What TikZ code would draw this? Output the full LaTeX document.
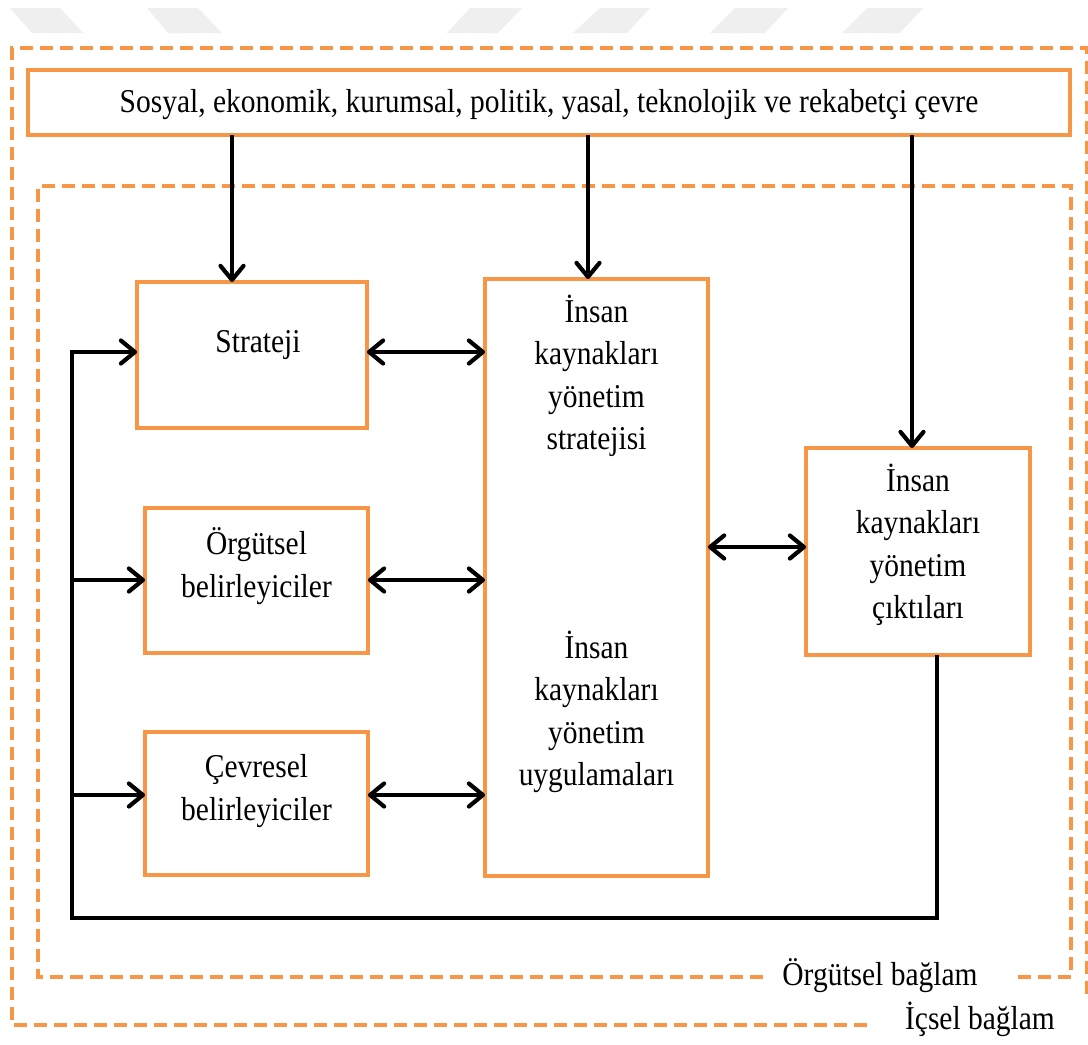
\documentclass[tikz,border=0pt]{standalone}
\usepackage{fontspec}
\setmainfont{Liberation Serif}[FakeStretch=0.885]
\usetikzlibrary{arrows.meta}
\definecolor{hrorange}{HTML}{F79646}
\definecolor{markgray}{HTML}{EFEFEF}
\begin{document}
\begin{tikzpicture}[x=1pt,y=-1pt,
  box/.style={draw=hrorange,line width=4.5pt,rectangle,inner sep=0pt,outer sep=0pt},
  frame/.style={draw=hrorange,line width=4.5pt,dash pattern=on 13pt off 7pt},
  lbl/.style={font=\fontsize{33.3}{42.5}\selectfont,align=center,anchor=base,inner sep=0pt},
  flow/.style={line width=4.2pt,-{Straight Barb[length=14pt,width=23pt,line cap=round,line join=round]}},
  both/.style={line width=4.2pt,{Straight Barb[length=14pt,width=23pt,line cap=round,line join=round]}-{Straight Barb[length=14pt,width=23pt,line cap=round,line join=round]}}]
\useasboundingbox (0,0) rectangle (1088,1045);
\fill[white] (0,0) rectangle (1088,1045);

% faint header marks
\fill[markgray] (10,8) -- (60,8) -- (83,33) -- (32,33) -- cycle;
\fill[markgray] (147,8) -- (198,8) -- (222,33) -- (168,33) -- cycle;
\fill[markgray] (470,8) -- (522,8) -- (498,33) -- (447,33) -- cycle;
\fill[markgray] (600,8) -- (650,8) -- (627,33) -- (573,33) -- cycle;
\fill[markgray] (735,8) -- (788,8) -- (765,33) -- (710,33) -- cycle;
\fill[markgray] (867,8) -- (923,8) -- (900,33) -- (842,33) -- cycle;

% context frames
\draw[frame] (867,1025) -- (12,1025) -- (12,48) -- (1087,48) -- (1087,1000);
\draw[frame] (763,977) -- (38,977) -- (38,186) -- (1071,186) -- (1071,977) -- (1013,977);
\node[lbl] (orgctx) at (880,985) {Örgütsel bağlam};
\node[lbl] (icctx) at (980,1029) {İçsel bağlam};

% boxes
\node[box,minimum width=1042pt,minimum height=65pt] (env) at (549,102.5) {};
\node[box,minimum width=230pt,minimum height=146pt] (strat) at (252,355) {};
\node[box,minimum width=223pt,minimum height=145pt] (org) at (256.5,580.5) {};
\node[box,minimum width=223pt,minimum height=143pt] (cev) at (256.5,803.5) {};
\node[box,minimum width=223pt,minimum height=597pt] (ik) at (596.5,577.5) {};
\node[box,minimum width=224pt,minimum height=207pt] (out) at (918,551.5) {};

% texts (y is the baseline of the last line)
\node[lbl] (envt) at (549,112) {Sosyal, ekonomik, kurumsal, politik, yasal, teknolojik ve rekabetçi çevre};
\node[lbl] (stratt) at (258,352) {Strateji};
\node[lbl] (orgt) at (256.5,597) {Örgütsel\\belirleyiciler};
\node[lbl] (cevt) at (256.5,820) {Çevresel\\belirleyiciler};
\node[lbl] (ikt1) at (596.5,449.5) {İnsan\\kaynakları\\yönetim\\stratejisi};
\node[lbl] (ikt2) at (596.5,785.5) {İnsan\\kaynakları\\yönetim\\uygulamaları};
\node[lbl] (outt) at (918,618.5) {İnsan\\kaynakları\\yönetim\\çıktıları};

% routing coordinates
\coordinate (xa) at (232,0);
\coordinate (xb) at (588,0);
\coordinate (xc) at (912,0);
\coordinate (xf) at (937,0);
\coordinate (xl) at (72,0);
\coordinate (ys) at (0,352);
\coordinate (yo) at (0,580);
\coordinate (yc) at (0,795);
\coordinate (yk) at (0,547);
\coordinate (yl) at (0,918);

% environment influences
\draw[flow] (env.south -| xa) -- (strat.north -| xa);
\draw[flow] (env.south -| xb) -- (ik.north -| xb);
\draw[flow] (env.south -| xc) -- (out.north -| xc);

% two-way links
\draw[both] (strat.east |- ys) -- (ik.west |- ys);
\draw[both] (org.east |- yo) -- (ik.west |- yo);
\draw[both] (cev.east |- yc) -- (ik.west |- yc);
\draw[both] (ik.east |- yk) -- (out.west |- yk);

% feedback loop
\draw[flow] (out.south -| xf) -- (xf |- yl) -- (xl |- yl) -- (xl |- ys) -- (strat.west |- ys);
\draw[flow] (xl |- yo) -- (org.west |- yo);
\draw[flow] (xl |- yc) -- (cev.west |- yc);
\end{tikzpicture}
\end{document}
